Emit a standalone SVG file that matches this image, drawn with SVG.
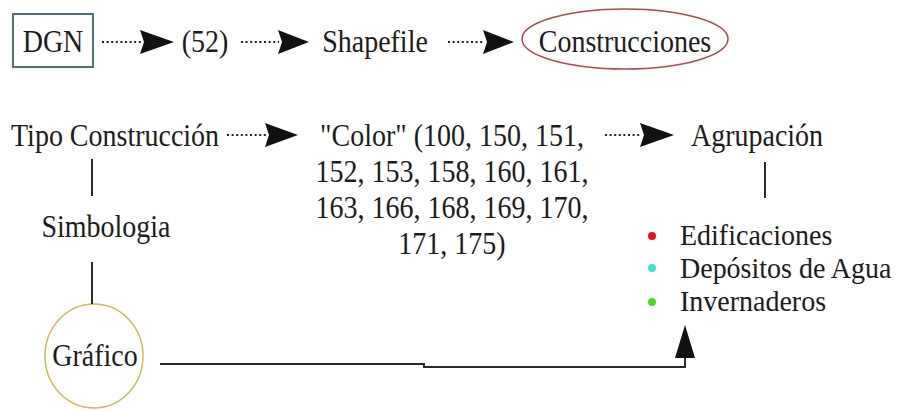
<svg xmlns="http://www.w3.org/2000/svg" width="899" height="410" viewBox="0 0 899 410">
  <defs>
    <style>
      .lbl { font-family: "Liberation Serif", "Times New Roman", serif; font-size: 28px; fill: #1c1c1c; }
      .mid { text-anchor: middle; }
      .dots { stroke: #222; stroke-width: 2; stroke-dasharray: 2 2.6; fill: none; }
      .head { fill: #111; }
      .solid { stroke: #2a2a2a; stroke-width: 2; fill: none; }
    </style>
  </defs>
  <rect width="899" height="410" fill="#ffffff"/>

  <!-- row 1 -->
  <g id="dgn">
    <rect x="13" y="14" width="80" height="53" fill="none" stroke="#4d6e8e" stroke-width="2"/>
    <text class="lbl mid" transform="translate(53,52) scale(1,1.15)">DGN</text>
  </g>
  <g id="n52">
    <text class="lbl mid" transform="translate(205,52) scale(1,1.15)">(52)</text>
  </g>
  <g id="shapefile">
    <text class="lbl mid" transform="translate(375,52) scale(1,1.15)">Shapefile</text>
  </g>
  <g id="construcciones">
    <ellipse cx="625" cy="39" rx="103" ry="30" fill="none" stroke="#b24848" stroke-width="1.5"/>
    <text class="lbl mid" transform="translate(625,52) scale(1,1.15)">Construcciones</text>
  </g>

  <!-- row 2 -->
  <g id="tipo">
    <text class="lbl" transform="translate(11,146) scale(1,1.15)">Tipo Construcción</text>
  </g>
  <g id="color">
    <text class="lbl mid" transform="translate(452,146) scale(1,1.15)">"Color" (100, 150, 151,</text>
    <text class="lbl mid" transform="translate(452,182) scale(1,1.15)">152, 153, 158, 160, 161,</text>
    <text class="lbl mid" transform="translate(452,218) scale(1,1.15)">163, 166, 168, 169, 170,</text>
    <text class="lbl mid" transform="translate(452,254) scale(1,1.15)">171, 175)</text>
  </g>
  <g id="agrupacion">
    <text class="lbl mid" transform="translate(757,146) scale(1,1.15)">Agrupación</text>
  </g>
  <g id="simbologia">
    <text class="lbl mid" transform="translate(106,237) scale(1,1.15)">Simbologia</text>
  </g>
  <g id="grupos">
    <circle cx="652" cy="236" r="4" fill="#e8101a"/>
    <circle cx="652" cy="268" r="4" fill="#3ee0cc"/>
    <circle cx="652" cy="302" r="4" fill="#4fd62a"/>
    <text class="lbl" transform="translate(680,245) scale(1,1.08)">Edificaciones</text>
    <text class="lbl" transform="translate(680,278) scale(1,1.08)">Depósitos de Agua</text>
    <text class="lbl" transform="translate(680,311) scale(1,1.08)">Invernaderos</text>
  </g>
  <g id="grafico">
    <ellipse cx="94" cy="356" rx="49" ry="52" fill="none" stroke="#d6b857" stroke-width="1.5"/>
    <text class="lbl mid" transform="translate(95,366) scale(1,1.15)">Gráfico</text>
  </g>

  <!-- connectors -->
  <g id="connectors">
    <line class="dots" x1="102" y1="42" x2="141" y2="42"/>
    <polygon class="head" points="140,30 174,42 140,54 144,42"/>
    <line class="dots" x1="241" y1="42" x2="279" y2="42"/>
    <polygon class="head" points="278,30 309,42 278,54 282,42"/>
    <line class="dots" x1="448" y1="42" x2="484" y2="42"/>
    <polygon class="head" points="483,30 514,42 483,54 487,42"/>

    <line class="dots" x1="227" y1="135" x2="266" y2="135"/>
    <polygon class="head" points="265,123 298,135 265,147 269,135"/>
    <line class="dots" x1="605" y1="135" x2="641" y2="135"/>
    <polygon class="head" points="640,123 674,135 640,147 644,135"/>

    <line class="solid" x1="92" y1="159" x2="92" y2="196"/>
    <line class="solid" x1="765" y1="162" x2="765" y2="198"/>
    <line class="solid" x1="92" y1="262" x2="92" y2="304"/>

    <polyline class="solid" points="160,364 424,364 424,367 685,367 685,352"/>
    <polygon class="head" points="685,325 695,358 675,358"/>
  </g>
</svg>
